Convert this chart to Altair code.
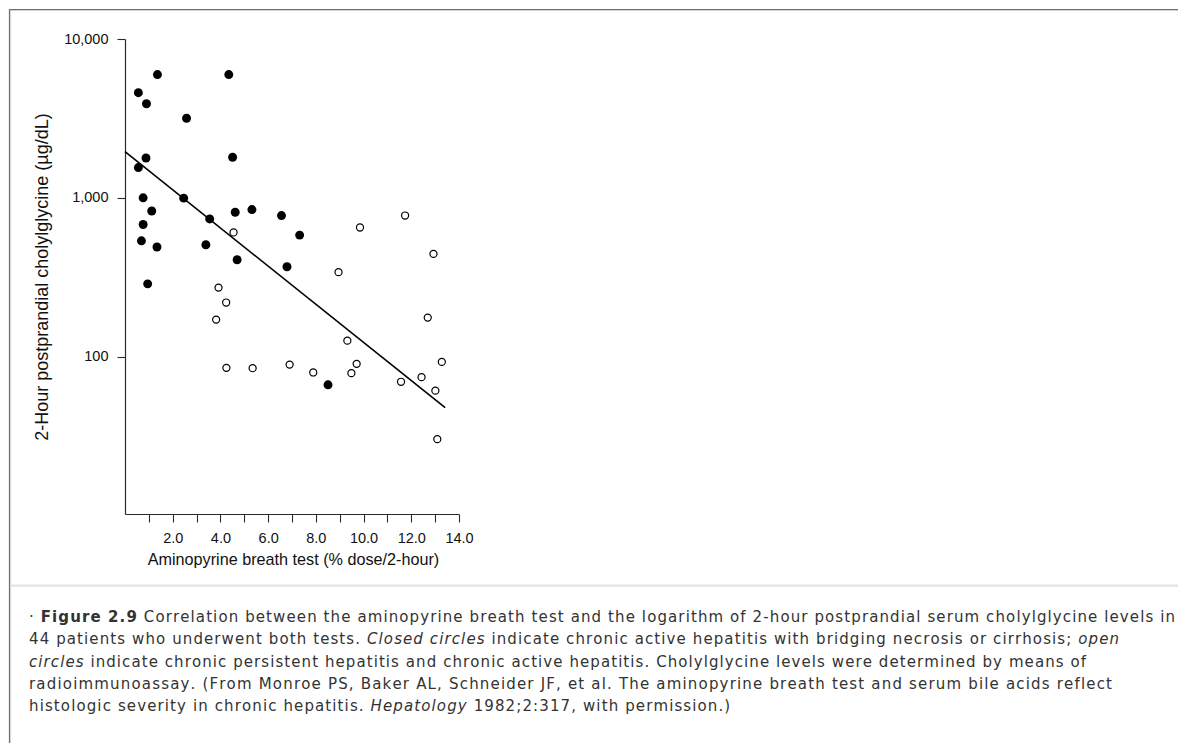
import altair as alt
import pandas as pd

# ---------------- data ----------------
# closed circles: chronic active hepatitis with bridging necrosis or cirrhosis
closed_x = [1.36, 0.56, 0.90, 2.58, 4.35, 0.88, 0.56, 4.51, 0.76, 2.46, 1.12, 4.62,
            5.32, 6.56, 0.76, 3.55, 7.32, 0.69, 1.34, 3.39, 4.70, 6.79, 0.95, 8.51]
closed_y = [5970, 4590, 3910, 3170, 5970, 1780, 1550, 1800, 1000, 995, 826, 811,
            843, 773, 679, 736, 582, 536, 490, 506, 407, 368, 287, 66.4]
# open circles: chronic persistent hepatitis and chronic active hepatitis
open_x = [4.55, 9.85, 11.74, 12.93, 8.95, 3.92, 4.24, 3.82, 12.69, 9.32, 4.25,
          5.35, 6.90, 7.89, 9.71, 9.49, 13.28, 11.57, 12.43, 13.01, 13.09]
open_y = [605, 650, 773, 443, 340, 272, 219, 171, 176, 126, 84.9,
          84.5, 89, 79.4, 90, 78.6, 92.6, 69.4, 74.2, 61, 30.2]
# regression line end points
fit_x = [0.0, 13.42]
fit_y = [1950, 47.7]

x_tick_values = list(range(1, 15))
y_tick_values = [100, 1000, 10000]
x_title = "Aminopyrine breath test (% dose/2-hour)"
y_title = "2-Hour postprandial cholylglycine (µg/dL)"

caption_lines = [
    [("· ", "normal"), ("Figure 2.9", "bold"),
     (" Correlation between the aminopyrine breath test and the logarithm of 2-hour postprandial serum cholylglycine levels in", "normal")],
    [("44 patients who underwent both tests. ", "normal"), ("Closed circles", "italic"),
     (" indicate chronic active hepatitis with bridging necrosis or cirrhosis; ", "normal"), ("open", "italic")],
    [("circles", "italic"),
     (" indicate chronic persistent hepatitis and chronic active hepatitis. Cholylglycine levels were determined by means of", "normal")],
    [("radioimmunoassay. (From Monroe PS, Baker AL, Schneider JF, et al. The aminopyrine breath test and serum bile acids reflect", "normal")],
    [("histologic severity in chronic hepatitis. ", "normal"), ("Hepatology", "italic"),
     (" 1982;2:317, with permission.)", "normal")],
]

# ---------------- layout (page pixels) ----------------
PLOT_LEFT, PLOT_TOP = 125, 39          # page position of plot origin
PLOT_W, PLOT_H = 334, 475
SVG_W, SVG_H = 1170, 735
PAD = {"left": PLOT_LEFT - 8, "top": PLOT_TOP - 8,
       "right": SVG_W - (PLOT_LEFT - 8) - PLOT_W,
       "bottom": SVG_H - (PLOT_TOP - 8) - PLOT_H}

def rx(px):
    return px - PLOT_LEFT

def ry(py):
    return py - PLOT_TOP

# approximate advance widths (1/1000 em) of the caption typeface
W = {' ': 318, '·': 318, '.': 318, ',': 318, ';': 337, ':': 337, '(': 390, ')': 390, '-': 361,
     'A': 684, 'B': 686, 'C': 698, 'D': 770, 'E': 632, 'F': 575, 'G': 775, 'H': 752, 'I': 295,
     'J': 295, 'K': 656, 'L': 557, 'M': 863, 'N': 748, 'O': 787, 'P': 603, 'R': 695, 'S': 635,
     'T': 611, 'a': 613, 'b': 635, 'c': 550, 'd': 635, 'e': 615, 'f': 352, 'g': 635, 'h': 634,
     'i': 278, 'j': 278, 'k': 579, 'l': 278, 'm': 974, 'n': 634, 'o': 612, 'p': 635, 'q': 635,
     'r': 411, 's': 521, 't': 392, 'u': 634, 'v': 592, 'w': 818, 'x': 592, 'y': 592, 'z': 525}
for d in "0123456789":
    W[d] = 636
WB = {'F': 683, 'i': 343, 'g': 716, 'u': 712, 'r': 493, 'e': 678, ' ': 348,
      '2': 696, '.': 380, '9': 696}
CAP_FS = 15
CAP_X0 = 29
cap_ends = [1175, 1119, 1086, 1112, None]
cap_base = [622, 644.3, 666.5, 688.8, 711]

def adv(ch, style):
    t = WB if style == "bold" else W
    return t.get(ch, W.get(ch, 600)) * CAP_FS / 1000.0

ls_vals = []
for segs, end in zip(caption_lines, cap_ends):
    chars = [(c, st) for txt, st in segs for c in txt]
    tot = sum(adv(c, st) for c, st in chars)
    if end is not None:
        ls_vals.append((end - CAP_X0 - tot) / (len(chars) - 1))
ls_mean = sum(ls_vals) / len(ls_vals)

# letter-spaced caption: one glyph per row, centred in its slot
rows = []
for i, segs in enumerate(caption_lines):
    ls = ls_vals[i] if i < len(ls_vals) else ls_mean
    x = CAP_X0
    for txt, st in segs:
        for c in txt:
            a = adv(c, st)
            if c != " ":
                rows.append({"ch": c, "px": rx(x + a / 2), "py": ry(cap_base[i]), "st": st})
            x += a + ls
glyphs = pd.DataFrame(rows)

# frame / separator rules (page pixels)
frame = pd.DataFrame([
    {"x1": rx(9), "x2": rx(1178), "y1": ry(9.5), "y2": ry(9.5), "c": "#6e6e6e", "sw": 1.2},
    {"x1": rx(10), "x2": rx(1178), "y1": ry(10.6), "y2": ry(10.6), "c": "#cfcfcf", "sw": 1.0},
    {"x1": rx(9.5), "x2": rx(9.5), "y1": ry(9), "y2": ry(743), "c": "#6e6e6e", "sw": 1.2},
    {"x1": rx(10.6), "x2": rx(10.6), "y1": ry(10), "y2": ry(743), "c": "#d5d5d5", "sw": 1.0},
    {"x1": rx(10), "x2": rx(1178), "y1": ry(585.6), "y2": ry(585.6), "c": "#e3e3e3", "sw": 2.4},
])

# ---------------- chart ----------------
FIG_FONT = "Liberation Sans"
AX = "#2a2a2a"

xscale = alt.Scale(domain=[0, 14], nice=False, zero=False)
yscale = alt.Scale(type="log", domain=[10.2, 10000], nice=False)

x_axis = alt.Axis(values=x_tick_values,
                  labelExpr="datum.value % 2 == 0 ? format(datum.value, '.1f') : ''",
                  grid=False, tickSize=8, tickColor=AX, domainColor=AX, domainWidth=1.2,
                  tickWidth=1.1, labelFont=FIG_FONT, labelFontSize=14.5, labelColor="#111",
                  labelBaseline="alphabetic", labelPadding=20, labelFlush=False,
                  labelOverlap=False, title=x_title, titleFont=FIG_FONT, titleFontSize=16.2,
                  titleFontWeight="normal", titleColor="#111", titleX=168, titleY=50,
                  titleAlign="center", titleBaseline="alphabetic")
y_axis = alt.Axis(values=y_tick_values, format=",", grid=False, tickSize=8, tickColor=AX,
                  domainColor=AX, domainWidth=1.2, tickWidth=1.1, labelFont=FIG_FONT,
                  labelFontSize=14.5, labelColor="#111", labelPadding=9, labelFlush=False,
                  labelOverlap=False, title=y_title, titleFont=FIG_FONT, titleFontSize=18,
                  titleFontWeight="normal", titleColor="#111", titleAngle=270,
                  titleX=-78, titleY=237.5, titleAlign="center", titleBaseline="alphabetic")

fit_layer = alt.Chart(pd.DataFrame({"x": fit_x, "y": fit_y})).mark_line(
    color="black", strokeWidth=1.6).encode(
    x=alt.X("x:Q", scale=xscale, axis=x_axis),
    y=alt.Y("y:Q", scale=yscale, axis=y_axis))

closed_layer = alt.Chart(pd.DataFrame({"x": closed_x, "y": closed_y})).mark_point(
    shape="circle", filled=True, size=80, color="black", opacity=1).encode(
    x=alt.X("x:Q", scale=xscale, axis=x_axis),
    y=alt.Y("y:Q", scale=yscale, axis=y_axis))

open_layer = alt.Chart(pd.DataFrame({"x": open_x, "y": open_y})).mark_point(
    shape="circle", filled=False, size=50, stroke="black", strokeWidth=1.2,
    fill="white", fillOpacity=1, opacity=1).encode(
    x=alt.X("x:Q", scale=xscale, axis=x_axis),
    y=alt.Y("y:Q", scale=yscale, axis=y_axis))

frame_layer = alt.Chart(frame).mark_rule().encode(
    x=alt.X("x1:Q", scale=None, axis=None), x2="x2:Q",
    y=alt.Y("y1:Q", scale=None, axis=None), y2="y2:Q",
    color=alt.Color("c:N", scale=None, legend=None),
    strokeWidth=alt.StrokeWidth("sw:Q", scale=None, legend=None))

def glyph_layer(style):
    kw = {}
    if style == "bold":
        kw["fontWeight"] = "bold"
    if style == "italic":
        kw["fontStyle"] = "italic"
    return alt.Chart(glyphs[glyphs["st"] == style]).mark_text(
        align="center", baseline="alphabetic", font="DejaVu Sans",
        fontSize=CAP_FS, color="#333333", **kw).encode(
        x=alt.X("px:Q", scale=None, axis=None),
        y=alt.Y("py:Q", scale=None, axis=None),
        text="ch:N")

chart = alt.layer(
    frame_layer, fit_layer, closed_layer, open_layer,
    glyph_layer("normal"), glyph_layer("bold"), glyph_layer("italic"),
).properties(
    width=PLOT_W, height=PLOT_H,
    autosize=alt.AutoSizeParams(type="none"),
    padding=PAD,
    background="white",
).configure_view(stroke=None)

chart.save("out.html", embed_options={"renderer": "svg", "actions": False})
